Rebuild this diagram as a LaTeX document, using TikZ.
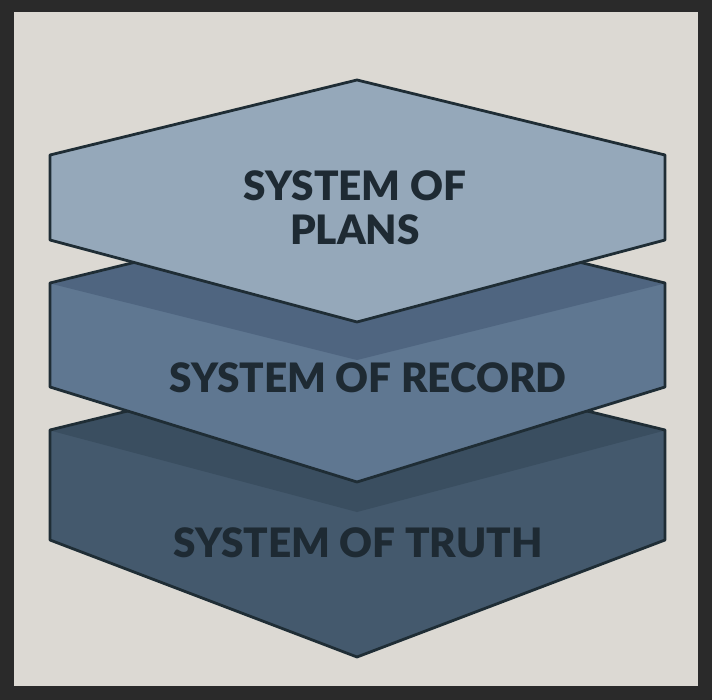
\documentclass[tikz,border=0pt]{standalone}
\usepackage{fontspec}
\setmainfont{Lato Black}
\begin{document}
\begin{tikzpicture}[x=1pt,y=-1pt,
  plate/.style={draw=edgec,line width=2.8pt,line join=round},
  lbl/.style={text=txtc,font=\fontsize{40.5}{44}\selectfont,align=center}]
\definecolor{edgec}{HTML}{1F2D35}
\definecolor{txtc}{HTML}{1E2A33}
\definecolor{bgc}{HTML}{DCD9D3}
\definecolor{framec}{HTML}{2A2A2A}
\definecolor{c1}{HTML}{95A8BA}
\definecolor{c2}{HTML}{5F7791}
\definecolor{c2t}{HTML}{4F6580}
\definecolor{c3}{HTML}{44596D}
\definecolor{c3t}{HTML}{3A4E60}
\useasboundingbox (0,0) rectangle (712,700);
\fill[framec] (0,0) rectangle (712,700);
\fill[bgc] (14,12) rectangle (698,686);
% bottom layer
\fill[c3] (50,430) -- (357,355) -- (665,430) -- (665,540) -- (357,657) -- (50,540) -- cycle;
\fill[c3t] (52,431) -- (357,356) -- (663,431) -- (357,512) -- cycle;
\draw[plate] (50,430) -- (357,355) -- (665,430) -- (665,540) -- (357,657) -- (50,540) -- cycle;
% middle layer
\fill[c2] (50,283) -- (357,208) -- (665,283) -- (665,387) -- (357,482) -- (50,387) -- cycle;
\fill[c2t] (52,284) -- (357,209) -- (663,284) -- (357,360) -- cycle;
\draw[plate] (50,283) -- (357,208) -- (665,283) -- (665,387) -- (357,482) -- (50,387) -- cycle;
% top layer
\fill[c1] (50,155) -- (357,80) -- (665,155) -- (665,240) -- (357,322) -- (50,240) -- cycle;
\draw[plate] (50,155) -- (357,80) -- (665,155) -- (665,240) -- (357,322) -- (50,240) -- cycle;
\node[lbl] (p) at (355,208) {SYSTEM OF\\PLANS};
\node[lbl] (r) at (368,378) {SYSTEM OF RECORD};
\node[lbl] (t) at (358,543) {SYSTEM OF TRUTH};
\end{tikzpicture}
\end{document}
